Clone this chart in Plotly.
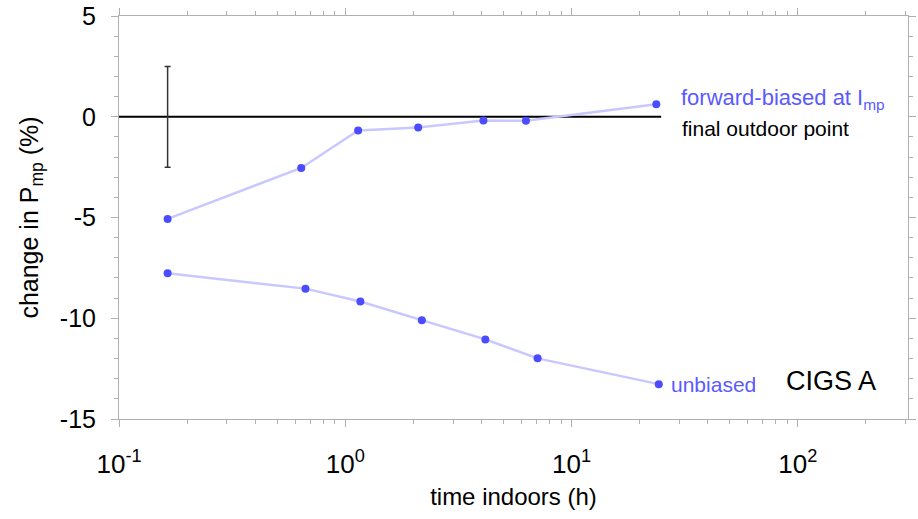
import plotly.graph_objects as go
import numpy as np

# Data
fwd_t = [0.164, 0.639, 1.14, 2.10, 4.08, 6.29, 23.7]
fwd_y = [-5.07, -2.54, -0.68, -0.53, -0.19, -0.20, 0.62]
unb_t = [0.164, 0.667, 1.166, 2.18, 4.16, 7.08, 24.3]
unb_y = [-7.77, -8.53, -9.17, -10.1, -11.05, -11.99, -13.27]
ref_t = [0.1, 24.9]
ref_y = [0, 0]
err_t = [0.164]
err_y = [0]
err_size = [2.5]

x_ticks = [0.1, 1, 10, 100]
x_ticktext = ["10<sup>-1</sup>", "10<sup>0</sup>", "10<sup>1</sup>", "10<sup>2</sup>"]
y_ticks = [5, 0, -5, -10, -15]
y_ticktext = ["5", "0", "-5", "-10", "-15"]

FONT = "Liberation Sans, Arial, Helvetica, sans-serif"
line_col = "rgba(200,200,255,1)"
pt_col = "rgb(75,75,255)"
txt_col = "rgb(90,90,255)"
axis_col = "#b0b0b0"

fig = go.Figure()
fig.add_trace(go.Scatter(x=ref_t, y=ref_y, mode="lines",
                         line=dict(color="black", width=1.8), hoverinfo="skip"))
fig.add_trace(go.Scatter(x=err_t, y=err_y, mode="markers",
                         marker=dict(size=0, opacity=0),
                         error_y=dict(type="data", array=err_size, color="#333",
                                      thickness=1.5, width=3)))
for xs, ys in [(fwd_t, fwd_y), (unb_t, unb_y)]:
    fig.add_trace(go.Scatter(x=xs, y=ys, mode="lines+markers",
                             line=dict(color=line_col, width=2.5),
                             marker=dict(color=pt_col, size=8)))

minor_x = [m * 10.0**e for e in (-1, 0, 1, 2) for m in range(2, 10) if m * 10.0**e < 310]

fig.update_layout(
    width=918, height=519,
    margin=dict(l=119, r=2, t=14, b=100),
    plot_bgcolor="white", paper_bgcolor="white",
    showlegend=False,
    font=dict(family=FONT, color="black", size=22),
    xaxis=dict(type="log", range=[-1, np.log10(307)],
               tickvals=x_ticks, ticktext=x_ticktext,
               ticks="outside", ticklen=7, tickcolor=axis_col, tickwidth=1,
               showline=True, linecolor=axis_col, linewidth=1, mirror="ticks",
               showgrid=False, zeroline=False,
               tickfont=dict(size=26), ticklabelstandoff=15,
               minor=dict(tickvals=minor_x, ticks="outside", ticklen=4,
                          tickcolor=axis_col, showgrid=False),
               title=dict(text="time indoors (h)", font=dict(size=24), standoff=9)),
    yaxis=dict(range=[-15, 5], tickvals=y_ticks, ticktext=y_ticktext,
               ticks="outside", ticklen=7, tickcolor=axis_col, tickwidth=1,
               showline=True, linecolor=axis_col, linewidth=1, mirror="ticks",
               showgrid=False, zeroline=False,
               tickfont=dict(size=25), ticklabelstandoff=10,
               ticklabeloverflow="allow",
               minor=dict(dtick=1, ticks="outside", ticklen=4,
                          tickcolor=axis_col, showgrid=False),
               title=dict(text="change in P<sub>mp</sub> (%)", font=dict(size=25), standoff=14)),
)

fig.add_annotation(x=np.log10(30.0), y=0.9, text="forward-biased at I<sub>mp</sub>",
                   showarrow=False, xanchor="left", yanchor="middle",
                   font=dict(size=22, color=txt_col))
fig.add_annotation(x=np.log10(30.2), y=-0.6, text="final outdoor point",
                   showarrow=False, xanchor="left", yanchor="middle",
                   font=dict(size=21, color="black"))
fig.add_annotation(x=np.log10(27.0), y=-13.27, text="unbiased",
                   showarrow=False, xanchor="left", yanchor="middle",
                   font=dict(size=21, color=txt_col))
fig.add_annotation(x=np.log10(86.5), y=-13.1, text="CIGS A",
                   showarrow=False, xanchor="left", yanchor="middle",
                   font=dict(size=27, color="black"))

fig.write_html("out.html")
